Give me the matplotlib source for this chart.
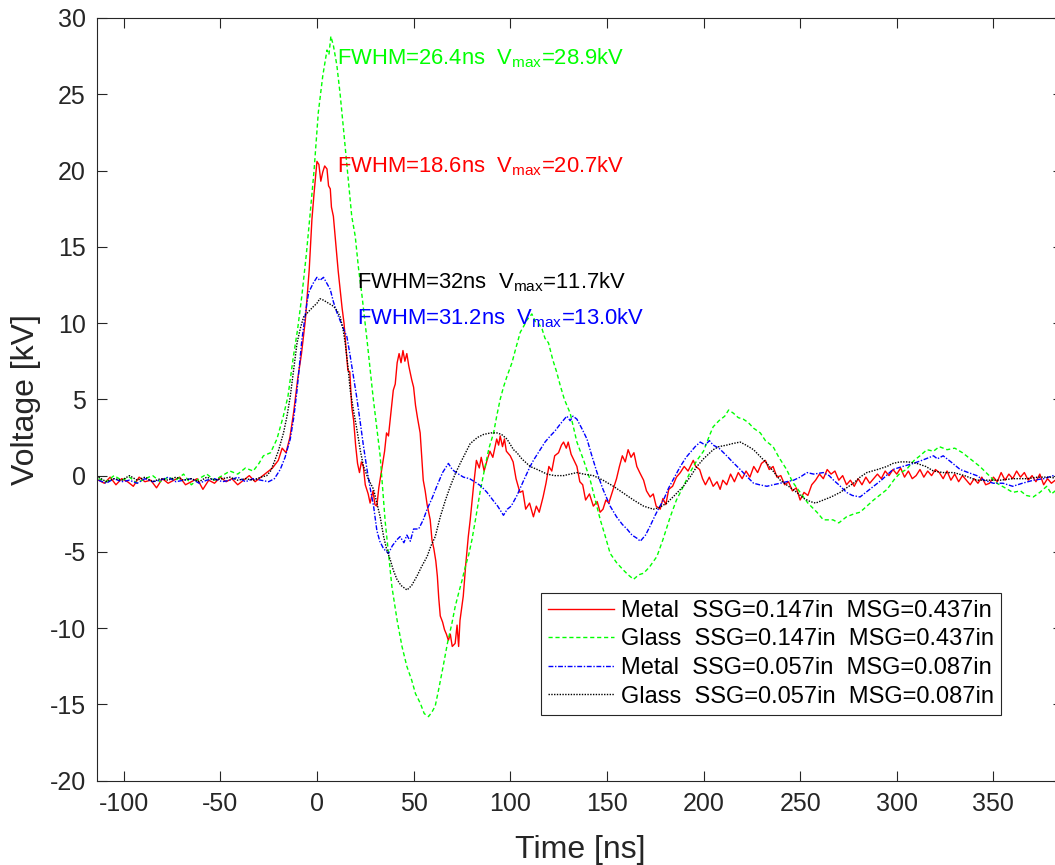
import matplotlib
matplotlib.use("Agg")
import matplotlib.pyplot as plt
import numpy as np

plt.rcParams["font.family"] = ["Liberation Sans", "DejaVu Sans"]
plt.rcParams["mathtext.default"] = "regular"
plt.rcParams["axes.unicode_minus"] = False

# (time ns, voltage kV)
red_pts = [(-113, -0.3), (-110, -0.5), (-107, -0.1), (-104, -0.6), (-101, -0.2), (-98, -0.4), (-95, -0.7), (-92, -0.1),
           (-89, -0.4), (-86, -0.3), (-83, -0.8), (-80, -0.2), (-77, -0.5), (-74, -0.3), (-71, -0.1), (-68, -0.6),
           (-65, -0.4), (-62, -0.2), (-59, -0.9), (-56, -0.3), (-53, -0.5), (-50, -0.1), (-47, -0.4), (-44, -0.2),
           (-41, -0.6), (-38, -0.3), (-35, 0.0), (-32, -0.4), (-29, -0.1), (-26, 0.2), (-23, 0.5), (-20, 1.0),
           (-18, 1.8), (-16, 1.5), (-14, 2.5), (-12, 4.2), (-10, 6.3), (-8, 8.0), (-6, 10.2), (-4, 13.5),
           (-2.6, 16.8), (-1.5, 18.5), (0, 20.6), (1, 20.4), (2, 19.3), (3, 19.9), (4, 20.3), (5.2, 20.1),
           (6, 19.0), (6.9, 18.8), (7.5, 17.6), (8.5, 17.0), (9.5, 15.6), (10.3, 14.4), (11, 13.4), (12, 12.2),
           (13, 11.0), (14, 10.0), (15, 8.4), (16, 6.9), (17, 6.8), (18, 4.5), (19, 3.6), (20, 2.0), (21, 0.8),
           (22, 0.2), (23, 0.9), (24, 0.6), (25, -0.6), (26.5, -1.2), (27.5, -1.8), (29, -1.0), (30, -1.9),
           (31, -2.0), (32, -0.8), (33.5, 0.4), (35, 1.6), (36, 2.8), (37, 2.6), (38.5, 4.4), (39.5, 5.6),
           (40.5, 6.0), (41.5, 7.4), (42.5, 8.0), (43.5, 7.4), (44.5, 8.2), (45.5, 7.5), (46.5, 8.0), (47.5, 7.2),
           (49, 6.3), (50, 5.8), (51, 4.6), (52, 3.8), (53.4, 2.8), (54.3, 1.0), (55, -0.3), (56, -1.0),
           (57, -1.9), (58.6, -2.9), (59.5, -4.2), (60.5, -4.8), (61.5, -5.6), (62.3, -6.6), (63, -8.0),
           (63.8, -9.2), (65, -9.6), (66, -10.1), (67, -10.4), (68, -10.8), (69, -10.4), (70, -11.2), (71.5, -11.0),
           (72.5, -9.8), (73.3, -11.2), (74, -9.5), (75.7, -7.9), (77, -5.8), (78.3, -4.0), (79.3, -2.9),
           (81, -0.7), (82.5, 1.0), (84, 0.5), (85, 1.2), (86.5, 0.3), (88, 1.0), (89.5, 1.6), (91, 1.2),
           (93, 2.4), (94, 2.0), (94.8, 2.6), (96, 1.9), (97, 2.4), (98, 1.6), (100, 1.3), (101.5, 0.9),
           (103, -0.2), (105, -1.1), (106.5, -1.0), (108, -2.2), (110, -1.8), (112, -2.7), (113.5, -2.0),
           (115, -2.4), (117, -1.4), (118.5, -0.5), (120, 0.6), (121.5, 0.3), (123, 1.3), (125, 1.5), (126.5, 2.0),
           (127.6, 2.2), (129, 1.8), (130, 2.2), (131.5, 1.4), (133, 1.0), (134.5, 0.6), (136, -0.4), (137.5, -0.6),
           (139, -1.6), (141, -1.2), (143, -2.0), (145, -1.7), (146.5, -2.4), (148, -2.2), (149.5, -1.6),
           (151, -1.8), (153, -1.0), (155, -0.2), (156.5, 0.6), (158, 1.3), (159.5, 0.9), (161, 1.7), (162.5, 1.2),
           (164, 1.5), (165.5, 0.6), (167, 0.2), (169, -0.3), (170.5, -1.0), (172.4, -1.4), (174, -1.2),
           (175.5, -2.0), (177.6, -2.2), (179, -1.5), (180.5, -1.9), (182, -0.9), (184, -0.7), (186, -0.1),
           (188, 0.2), (190, 0.6), (192, 0.3), (194.7, 1.0), (196, 0.6), (198, 0.4), (199.5, -0.2), (201, -0.6),
           (203, -0.1), (205, -0.7), (207, -0.4), (208.6, -0.9), (210, -0.3), (212, -0.6), (214, 0.1), (216, -0.4),
           (218, 0.2), (220, -0.2), (222, 0.3), (224, -0.1), (226, 0.6), (228, 0.2), (230, 0.8), (232, 1.0),
           (234, 0.4), (236, 0.6), (238, -0.1), (240, 0.0), (242, -0.6), (244, -0.4), (246, -1.0), (248, -0.8),
           (250, -1.6), (252, -1.1), (254, -1.3), (256, -0.6), (258, -0.3), (260, 0.1), (262, -0.2), (264, 0.4),
           (266, 0.1), (268, 0.3), (270, -0.3), (272, 0.0), (274, -0.6), (276, -0.3), (278, -0.7), (280, -0.2),
           (282, -0.6), (284, -0.1), (286, -0.5), (288, -0.2), (290, 0.1), (292, -0.2), (294, 0.3), (296, 0.0),
           (298, 0.4), (300, 0.1), (302, 0.5), (304, -0.1), (306, 0.3), (308, -0.2), (310, 0.0), (312, 0.4),
           (314, -0.1), (316, 0.3), (318, 0.0), (320, 0.4), (322, 0.2), (324, -0.2), (326, 0.3), (328, -0.3),
           (330, 0.1), (332, -0.4), (334, 0.0), (336, -0.3), (338, -0.6), (340, -0.2), (342, -0.5), (344, -0.1),
           (346, -0.6), (348, -0.5), (350, -0.1), (352, -0.4), (354, 0.2), (356, -0.3), (358, 0.1), (360, -0.2),
           (362, 0.3), (364, -0.1), (366, 0.2), (368, -0.3), (370, 0.0), (372, -0.4), (374, 0.1), (376, -0.6),
           (378, -0.2), (380, -0.5), (382, -0.3)]

green_pts = [(-113, -0.2), (-109, -0.4), (-105, 0.0), (-101, -0.3), (-97, -0.1), (-93, -0.5), (-89, -0.2), (-85, 0.0),
             (-81, -0.4), (-77, -0.1), (-73, -0.3), (-69, 0.1), (-65, -0.6), (-61, -0.2), (-57, 0.1), (-53, -0.3),
             (-49, 0.0), (-45, 0.3), (-41, 0.1), (-37, 0.5), (-33, 0.3), (-30, 0.8), (-27.7, 1.3), (-24, 1.5),
             (-20.7, 2.4), (-17.4, 3.9), (-15, 5.2), (-12.2, 7.8), (-10, 9.6), (-7.8, 11.8), (-5.5, 14.5),
             (-3.5, 17.2), (-1.5, 20.0), (0.7, 23.8), (3, 26.2), (5.2, 27.9), (6.2, 27.6), (7.2, 28.8), (8.5, 28.2),
             (10.3, 26.9), (12, 25.0), (13.6, 22.9), (16.2, 19.4), (18, 17.0), (19.8, 15.7), (21.5, 13.6),
             (23.3, 11.8), (25.9, 8.9), (29, 5.2), (32.7, 1.3), (35.3, -3.0), (38.8, -7.3), (41.5, -9.5), (44, -11.2),
             (46.5, -12.5), (49, -13.4), (51, -14.3), (53.4, -14.9), (55.5, -15.6), (57.7, -15.8), (59.5, -15.5),
             (61.2, -15.1), (63, -14.0), (65.3, -12.5), (67.5, -11.0), (69.8, -9.7), (71.5, -8.6), (73.3, -7.7),
             (75, -6.9), (76.7, -6.0), (78.5, -5.2), (80.2, -4.2), (82, -2.9), (84.5, -1.0), (87, 0.6), (89, 1.8),
             (91.4, 2.8), (93, 3.9), (94.8, 5.0), (96.5, 5.8), (98.3, 6.5), (100.9, 7.4), (103, 8.4), (105.2, 9.4),
             (107, 9.8), (108.6, 10.2), (110, 10.4), (111.2, 10.6), (113, 10.1), (114.6, 10.0), (116.5, 9.6),
             (118, 9.0), (119.8, 8.7), (122, 7.6), (124, 6.8), (125.9, 5.9), (128, 5.0), (131, 4.1), (134.5, 2.2),
             (138, 1.0), (141.4, -0.3), (144, -1.6), (146.6, -2.9), (149, -3.9), (151.7, -5.1), (155, -5.7),
             (158.6, -6.2), (161, -6.5), (163.8, -6.8), (166.5, -6.5), (169, -6.4), (172, -6.0), (175.9, -5.3),
             (179, -4.2), (182.8, -2.7), (186, -1.6), (189.6, -0.7), (193, 0.2), (196.6, 1.0), (200, 1.6),
             (203, 2.6), (205, 3.2), (208, 3.6), (211, 3.9), (213, 4.3), (215.4, 4.1), (218, 3.8), (220.6, 3.7),
             (223, 3.5), (226, 3.1), (229.4, 2.8), (232, 2.3), (236, 1.9), (239, 1.2), (243, 0.4), (246, -0.4),
             (250, -1.1), (254, -1.8), (258.7, -2.4), (262, -2.9), (267, -2.9), (270, -3.1), (274, -2.7),
             (278, -2.5), (281, -2.4), (284.5, -2.0), (288, -1.6), (291, -1.3), (295, -0.9), (299, -0.2), (302, 0.2),
             (305, 0.4), (309, 1.0), (312, 1.3), (315.6, 1.7), (319, 1.6), (322, 1.9), (326, 1.7), (330, 1.8),
             (334, 1.5), (338, 1.1), (343, 0.6), (347, 0.1), (351.8, -0.5), (356, -0.8), (360, -1.1), (364, -1.0),
             (367, -1.3), (370.6, -1.4), (374, -1.1), (377.6, -0.7), (380, -1.2), (383, -0.9)]

blue_pts = [(-113, -0.3), (-109, -0.5), (-105, -0.2), (-101, -0.4), (-97, -0.3), (-93, -0.5), (-89, -0.2), (-85, -0.4),
            (-81, -0.3), (-77, -0.1), (-73, -0.4), (-69, -0.3), (-65, -0.2), (-61, -0.5), (-57, -0.3), (-53, -0.2),
            (-49, -0.4), (-45, -0.3), (-41, -0.1), (-37, -0.4), (-33, -0.2), (-29, -0.3), (-25, -0.4), (-22, -0.2),
            (-19, 0.4), (-16.5, 1.2), (-13.8, 2.4), (-12, 3.8), (-10.3, 5.6), (-7.8, 8.9), (-5.2, 11.3),
            (-4.3, 12.0), (-2, 12.6), (0, 13.0), (1.5, 12.8), (3.4, 13.0), (6, 12.4), (6.9, 12.2), (8.5, 11.4),
            (10.3, 10.7), (12.5, 10.0), (15.5, 9.1), (17, 8.0), (18.9, 6.5), (20.5, 5.2), (22.4, 3.5), (24, 2.0),
            (25.9, 0.4), (27.5, -0.8), (29.3, -2.0), (31, -3.6), (32.5, -4.3), (34.5, -4.8), (37, -5.1), (39, -4.6),
            (41.4, -4.2), (43, -4.0), (45, -4.4), (46.5, -3.9), (48.3, -4.3), (50, -3.5), (52.6, -3.5), (55, -2.9),
            (57, -2.2), (59.5, -1.5), (62, -0.7), (65, 0.2), (68, 0.8), (70, 0.4), (72, 0.2), (75.8, -0.1),
            (79, -0.2), (82.8, -0.5), (85, -0.7), (88, -1.1), (91, -1.6), (93.5, -2.0), (96.5, -2.6), (98.5, -2.2),
            (100.5, -2.0), (103.5, -1.3), (107, -0.3), (110.3, 0.6), (112, 1.0), (115, 1.6), (118, 2.2),
            (120.7, 2.6), (123, 2.9), (126, 3.4), (129.3, 3.9), (131, 3.6), (132.5, 3.9), (134.5, 3.7), (137, 3.1),
            (139.7, 2.4), (142, 1.4), (144.9, 0.2), (148, -0.9), (151.7, -2.0), (155, -2.7), (158, -3.2),
            (160.4, -3.5), (163, -3.9), (165.5, -4.1), (167.3, -4.3), (170, -3.9), (172.4, -3.3), (175, -2.6),
            (177, -2.1), (179.3, -1.6), (182, -0.8), (185, -0.1), (188, 0.6), (191, 1.2), (193, 1.5), (195.7, 1.9),
            (198.3, 2.2), (201, 2.0), (203, 2.3), (205, 2.0), (208, 1.8), (212, 1.3), (215, 0.9), (219, 0.4),
            (222, 0.0), (225.9, -0.5), (229, -0.6), (232.8, -0.7), (236, -0.6), (239.7, -0.5), (243, -0.4),
            (246.6, -0.3), (250, -0.1), (253.5, 0.2), (257, 0.1), (262, 0.2), (265, 0.0), (267.3, -0.3), (270, -0.6),
            (274, -1.1), (277, -1.3), (281, -1.4), (284, -1.1), (288, -0.7), (292, -0.3), (298, 0.4), (303, 0.6),
            (308.6, 0.8), (313, 1.0), (319, 1.3), (321, 1.1), (324, 1.3), (328, 0.9), (332.8, 0.4), (337, 0.2),
            (341.4, 0.0), (345, -0.3), (350, -0.5), (355, -0.5), (360, -0.7), (365, -0.5), (370.7, -0.3),
            (376, -0.2), (381, 0.0), (383, -0.1)]

black_pts = [(-113, -0.1), (-109, -0.4), (-105, -0.2), (-101, -0.3), (-97, 0.0), (-93, -0.3), (-89, -0.1), (-85, -0.4),
             (-81, -0.2), (-77, -0.3), (-73, -0.1), (-69, -0.3), (-65, -0.2), (-61, -0.4), (-57, -0.1), (-53, -0.3),
             (-49, -0.2), (-45, -0.1), (-41, -0.3), (-37, -0.2), (-33, -0.3), (-29, -0.1), (-26, 0.0), (-24, 0.3),
             (-22.4, 0.8), (-20, 1.6), (-17.3, 2.8), (-15.5, 3.9), (-13.8, 5.2), (-12, 7.0), (-10.3, 8.7),
             (-8.5, 9.7), (-6.9, 10.4), (-4, 10.8), (-1.7, 11.1), (0, 11.3), (1.5, 11.6), (3.4, 11.5), (6, 11.3),
             (8.6, 11.1), (10.5, 10.8), (12, 10.4), (13.5, 9.6), (14.6, 8.7), (16, 7.2), (17.2, 5.6), (19, 4.2),
             (20.7, 3.0), (22.5, 1.6), (24.1, 0.6), (26.5, -0.2), (29.3, -0.9), (31, -1.8), (32.7, -2.7),
             (34.5, -4.0), (36, -4.8), (37.9, -5.5), (39.5, -6.2), (41.4, -6.8), (43.5, -7.2), (46.6, -7.5),
             (49, -7.2), (51.7, -6.6), (54, -6.0), (57, -5.3), (59, -4.6), (61.2, -4.0), (63.8, -2.7), (66.5, -1.6),
             (69, -0.7), (71.5, 0.1), (74.1, 0.8), (76.5, 1.4), (79.3, 2.1), (83, 2.5), (86.2, 2.7), (90, 2.8),
             (93.1, 2.8), (95.5, 2.7), (98.3, 2.4), (101.7, 1.7), (103.5, 1.5), (106, 1.1), (108.6, 0.8),
             (110.3, 0.6), (114, 0.4), (119, 0.1), (123, 0.0), (127.6, 0.0), (131, 0.1), (134.5, 0.2), (138, 0.1),
             (143, 0.0), (148, -0.3), (153.4, -0.7), (158, -1.1), (163.8, -1.6), (169, -2.0), (174, -2.2),
             (177, -2.1), (181, -1.8), (185, -1.3), (189.6, -0.7), (193, -0.1), (196.6, 0.6), (200, 1.1), (205, 1.7),
             (208, 1.9), (212, 2.0), (215, 2.1), (219, 2.2), (222, 2.0), (225.9, 1.7), (229, 1.3), (232.8, 0.8),
             (236, 0.3), (239.7, -0.3), (244, -0.7), (248.3, -1.1), (252, -1.5), (255.2, -1.7), (258, -1.8),
             (262, -1.6), (266, -1.4), (270.7, -1.1), (274, -0.8), (277.6, -0.5), (281, -0.1), (284.5, 0.2),
             (290, 0.4), (294.9, 0.6), (298, 0.8), (301.7, 0.9), (306, 0.9), (310.4, 0.8), (315, 0.6), (319, 0.3),
             (324, 0.2), (329.4, 0.2), (335, 0.0), (341.4, -0.3), (347, -0.3), (353.5, -0.3), (360, -0.2),
             (367.3, -0.2), (373, -0.1), (379.4, -0.1), (383, -0.2)]

labels = ["Metal  SSG=0.147in  MSG=0.437in",
          "Glass  SSG=0.147in  MSG=0.437in",
          "Metal  SSG=0.057in  MSG=0.087in",
          "Glass  SSG=0.057in  MSG=0.087in"]

notes = ["FWHM=26.4ns  V$_{max}$=28.9kV",
         "FWHM=18.6ns  V$_{max}$=20.7kV",
         "FWHM=32ns  V$_{max}$=11.7kV",
         "FWHM=31.2ns  V$_{max}$=13.0kV"]
note_x = [10.5, 10.5, 20.7, 20.7]
note_y = [26.95, 19.9, 12.3, 9.9]
note_col = [(0, 1, 0), (1, 0, 0), "k", (0, 0, 1)]

fig = plt.figure(figsize=(10.55, 8.65), dpi=100)
ax = fig.add_axes([97 / 1055, 84.3 / 865, 966 / 1055, 762.7 / 865])

styles = [((1, 0, 0), "-"), ((0, 1, 0), (0, (3, 2))),
          ((0, 0, 1), (0, (3.5, 1.2, 1, 1.2))), ((0, 0, 0), (0, (1, 1)))]
for pts, (c, ls), lab in zip([red_pts, green_pts, blue_pts, black_pts], styles, labels):
    arr = np.array(pts)
    ax.plot(arr[:, 0], arr[:, 1], color=c, linestyle=ls, linewidth=1.0, label=lab)

for s, x, y, c in zip(notes, note_x, note_y, note_col):
    ax.text(x, y, s, color=c, fontsize=15.8, va="baseline", ha="left")

ax.set_xlim(-113.8, 386)
ax.set_ylim(-20, 30)
ax.set_xticks(np.arange(-100, 351, 50))
ax.set_yticks(np.arange(-20, 31, 5))
ax.tick_params(direction="in", length=7, width=0.8, top=True, right=True,
               labelsize=18, colors="#262626", pad=8)
for sp in ax.spines.values():
    sp.set_color("#262626")
    sp.set_linewidth(0.8)

ax.set_xlabel("Time [ns]", fontsize=23, color="#262626", labelpad=14)
ax.set_ylabel("Voltage [kV]", fontsize=23, color="#262626", labelpad=6)

leg = ax.legend(loc="upper left", bbox_to_anchor=(444 / 966, 188 / 762.7), borderaxespad=0,
                fontsize=17, handlelength=2.8, handletextpad=0.3, labelspacing=0.28,
                borderpad=0.3, fancybox=False, framealpha=1)
leg.get_frame().set_edgecolor("#262626")
leg.get_frame().set_linewidth(0.8)

fig.savefig("out.png", dpi=100)
